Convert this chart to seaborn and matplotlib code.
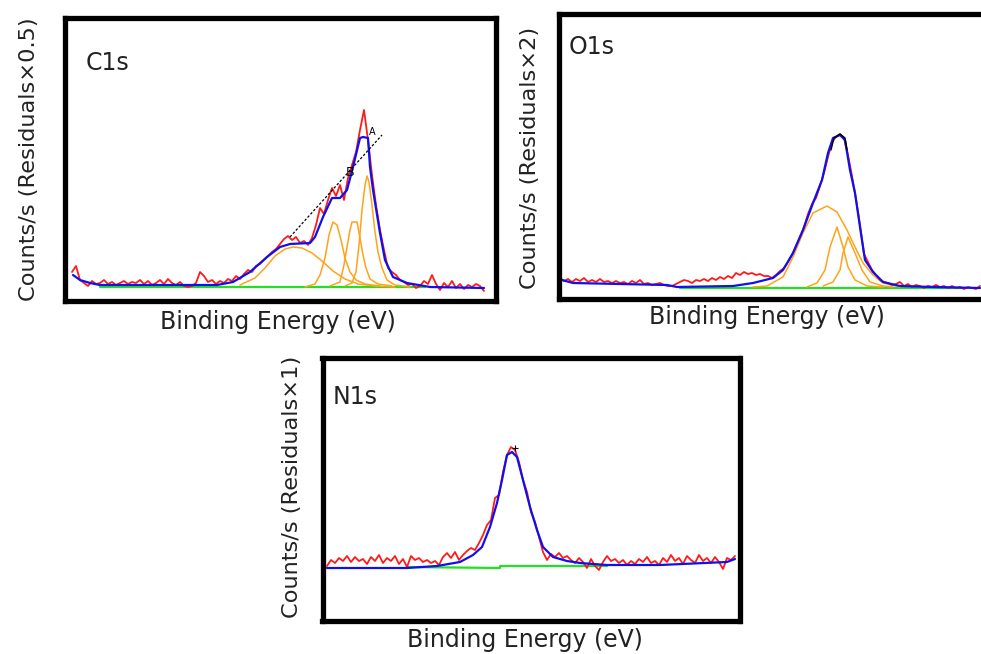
import numpy as np
import matplotlib
matplotlib.use('Agg')
import matplotlib.pyplot as plt
import seaborn as sns

sns.set_style('white')
plt.rcParams['font.family'] = ['DejaVu Sans']

# ---------------- C1s data (channel, counts) ----------------
c1s_x = np.arange(72, 485, 4)
c1s_raw = [28, 34, 20, 17, 14, 19, 16, 17, 20, 16, 18, 15, 17, 19, 16, 18, 17, 20, 16, 19,
           15, 17, 20, 16, 21, 17, 15, 18, 14, 13, 14, 17, 28, 24, 18, 20, 16, 19, 17, 21,
           19, 24, 21, 26, 30, 28, 34, 36, 40, 44, 48, 51, 56, 61, 64, 60, 63, 57, 59, 55,
           62, 75, 92, 86, 100, 112, 104, 115, 100, 122, 135, 148, 170, 190, 160, 125, 95, 70, 50, 32,
           28, 25, 20, 18, 15, 16, 12, 14, 19, 16, 25, 16, 10, 17, 13, 19, 12, 16, 11, 15,
           13, 16, 14, 9]
c1s_env_x = [73, 80, 90, 100, 150, 200, 217, 233, 250, 267, 280, 290, 310, 315, 323, 332, 340,
             347, 353, 360, 363, 368, 370, 373, 380, 385, 393, 407, 430, 484]
c1s_env = [25, 20, 17, 15, 15, 15, 15, 18, 28, 43, 53, 56, 57, 63, 83, 102, 102,
           110, 133, 162, 163, 162, 133, 110, 67, 40, 23, 17, 13, 12]
c1s_p1_x = [240, 255, 265, 275, 285, 293, 302, 312, 322, 333, 345, 358, 375, 395]
c1s_p1 = [15, 22, 32, 44, 51, 53, 52, 47, 39, 29, 21, 16, 14, 13]
c1s_p2_x = [305, 315, 320, 325, 329, 333, 337, 341, 345, 350, 356, 365, 380]
c1s_p2 = [13, 16, 25, 42, 65, 78, 75, 60, 42, 28, 20, 16, 14]
c1s_p3_x = [330, 340, 344, 347, 350, 352, 357, 360, 363, 366, 370, 378, 392]
c1s_p3 = [14, 18, 35, 53, 70, 78, 78, 62, 45, 32, 21, 16, 14]
c1s_p4_x = [345, 352, 356, 359, 362, 365, 367, 369, 372, 375, 378, 382, 387, 395, 410]
c1s_p4 = [14, 17, 28, 55, 90, 115, 124, 118, 95, 68, 48, 32, 20, 15, 13]
c1s_bg_x = [100, 425]
c1s_bg = [13, 13]
c1s_guide_x = [290, 382]
c1s_guide = [63, 165]

# ---------------- O1s data ----------------
o1s_x = np.arange(560, 981, 4)
o1s_raw = [22, 19, 21, 18, 21, 19, 22, 18, 20, 18, 21, 18, 19, 17, 19, 17, 18, 16, 19, 17,
           20, 16, 17, 15, 16, 17, 15, 14, 14, 16, 18, 20, 19, 17, 20, 19, 21, 19, 22, 20,
           23, 21, 24, 22, 27, 25, 28, 26, 27, 25, 26, 24, 24, 22, 25, 29, 32, 38, 45, 54,
           63, 73, 86, 96, 102, 114, 127, 143, 158, 163, 166, 162, 145, 124, 101, 75, 46, 38, 30, 25,
           20, 18, 17, 15, 16, 18, 14, 16, 13, 15, 14, 12, 14, 13, 15, 13, 14, 12, 14, 12,
           13, 11, 13, 12, 11, 14]
o1s_env_x = [562, 573, 667, 677, 733, 753, 773, 783, 793, 803, 813, 822, 828, 833, 840, 845,
             850, 855, 860, 865, 873, 883, 900, 933, 980]
o1s_env = [20, 17, 15, 13, 14, 17, 22, 30, 47, 70, 97, 120, 147, 162, 165, 160,
           130, 107, 73, 40, 28, 18, 14, 13, 12]
o1s_p1_x = [753, 767, 783, 793, 803, 813, 827, 837, 847, 855, 863, 873, 883, 900]
o1s_p1 = [13, 14, 23, 43, 67, 87, 94, 88, 70, 53, 37, 25, 17, 13]
o1s_p2_x = [807, 817, 825, 830, 837, 843, 848, 855, 867, 883]
o1s_p2 = [13, 17, 30, 53, 73, 53, 33, 20, 14, 13]
o1s_p3_x = [823, 833, 840, 843, 848, 855, 862, 870, 883, 893]
o1s_p3 = [14, 18, 30, 47, 63, 47, 30, 18, 14, 13]
o1s_bg_x = [680, 963]
o1s_bg = [12, 12]
o1s_top_x = [831, 834, 840, 845, 847]
o1s_top = [150, 162, 166, 162, 150]

# ---------------- N1s data ----------------
n1s_x = np.arange(327, 736, 4)
n1s_raw = [54, 60, 57, 62, 59, 64, 58, 63, 59, 61, 56, 63, 59, 65, 57, 62, 59, 64, 56, 61,
           53, 64, 60, 62, 58, 60, 57, 59, 55, 63, 67, 62, 68, 60, 65, 69, 72, 70, 77, 85,
           95, 100, 122, 125, 148, 165, 173, 170, 158, 140, 128, 108, 98, 83, 68, 60, 66, 63, 67, 62,
           64, 60, 57, 62, 58, 52, 61, 54, 50, 58, 64, 59, 61, 57, 60, 55, 59, 56, 61, 58,
           63, 57, 59, 55, 62, 58, 65, 59, 62, 56, 64, 60, 57, 65, 59, 62, 57, 63, 58, 51,
           62, 60, 64]
n1s_env_x = [327, 407, 437, 460, 473, 482, 490, 497, 502, 507, 512, 517, 523, 530, 537, 543,
             553, 567, 580, 607, 660, 727, 735]
n1s_env = [52, 52, 54, 58, 65, 73, 93, 117, 140, 165, 168, 163, 140, 113, 90, 73,
           63, 59, 57, 55, 55, 58, 61]
n1s_bg_x = [407, 500, 500, 607]
n1s_bg = [53, 52, 54, 54]

RED, BLUE, ORANGE, GREEN = '#ff1a1a', '#1010ee', '#ffa31a', '#22e022'
TXT = '#222222'
W, H = 981, 654

fig = plt.figure(figsize=(W / 100, H / 100), dpi=100)


def add_box(left, top, right, bottom):
    # box given in pixels of the original picture
    ax = fig.add_axes([left / W, 1 - bottom / H, (right - left) / W, (bottom - top) / H])
    ax.set_xticks([])
    ax.set_yticks([])
    for sp in ax.spines.values():
        sp.set_color('black')
        sp.set_linewidth(3.8)
    return ax


def line(ax, x, y, color, lw, **kw):
    sns.lineplot(x=x, y=y, ax=ax, color=color, linewidth=lw, estimator=None,
                 sort=False, legend=False, **kw)


# C1s
ax1 = add_box(64.5, 17.5, 496, 300.5)
line(ax1, c1s_bg_x, c1s_bg, GREEN, 1.6)
for px, py in [(c1s_p1_x, c1s_p1), (c1s_p2_x, c1s_p2), (c1s_p3_x, c1s_p3), (c1s_p4_x, c1s_p4)]:
    line(ax1, px, py, ORANGE, 1.1)
line(ax1, c1s_x, c1s_raw, RED, 1.3)
line(ax1, c1s_env_x, c1s_env, BLUE, 1.6)
line(ax1, c1s_guide_x, c1s_guide, 'black', 0.9, linestyle=(0, (2, 1.5)))
ax1.text(350, 127, 'B', fontsize=9, color='black', ha='center', va='center')
ax1.text(372, 168, 'A', fontsize=7, color='black', ha='center', va='center')
ax1.set_xlim(64.5, 496)
ax1.set_ylim(-0.5, 282.5)
ax1.text(86, 237, 'C1s', fontsize=17, color=TXT, va='center')

# O1s
ax2 = add_box(558.5, 14, 992, 299.5)
line(ax2, o1s_bg_x, o1s_bg, GREEN, 1.6)
for px, py in [(o1s_p1_x, o1s_p1), (o1s_p2_x, o1s_p2), (o1s_p3_x, o1s_p3)]:
    line(ax2, px, py, ORANGE, 1.1)
line(ax2, o1s_x, o1s_raw, RED, 1.3)
line(ax2, o1s_env_x, o1s_env, BLUE, 1.6)
line(ax2, o1s_top_x, o1s_top, 'black', 1.0)
ax2.set_xlim(558.5, 992)
ax2.set_ylim(0.5, 286)
ax2.text(569, 253, 'O1s', fontsize=17, color=TXT, va='center')

# N1s
ax3 = add_box(322.5, 357.5, 739.5, 620.5)
line(ax3, n1s_bg_x, n1s_bg, GREEN, 1.6)
line(ax3, n1s_x, n1s_raw, RED, 1.3)
line(ax3, n1s_env_x, n1s_env, BLUE, 1.6)
ax3.plot(515, 172, marker='+', color='black', markersize=5, markeredgewidth=0.8)
ax3.set_xlim(322.5, 739.5)
ax3.set_ylim(-0.5, 262.5)
ax3.text(333, 223, 'N1s', fontsize=17, color=TXT, va='center')

# axis titles
labels = [
    (278, 322, 'Binding Energy (eV)', 0),
    (767, 317, 'Binding Energy (eV)', 0),
    (525, 640, 'Binding Energy (eV)', 0),
    (29, 159, 'Counts/s (Residuals×0.5)', 90),
    (530, 158, 'Counts/s (Residuals×2)', 90),
    (292, 487, 'Counts/s (Residuals×1)', 90),
]
for x, y, s, rot in labels:
    fig.text(x / W, 1 - y / H, s, fontsize=17 if rot == 0 else 16.2, color=TXT,
             rotation=rot, ha='center', va='center')

fig.savefig('out.png', dpi=100)
